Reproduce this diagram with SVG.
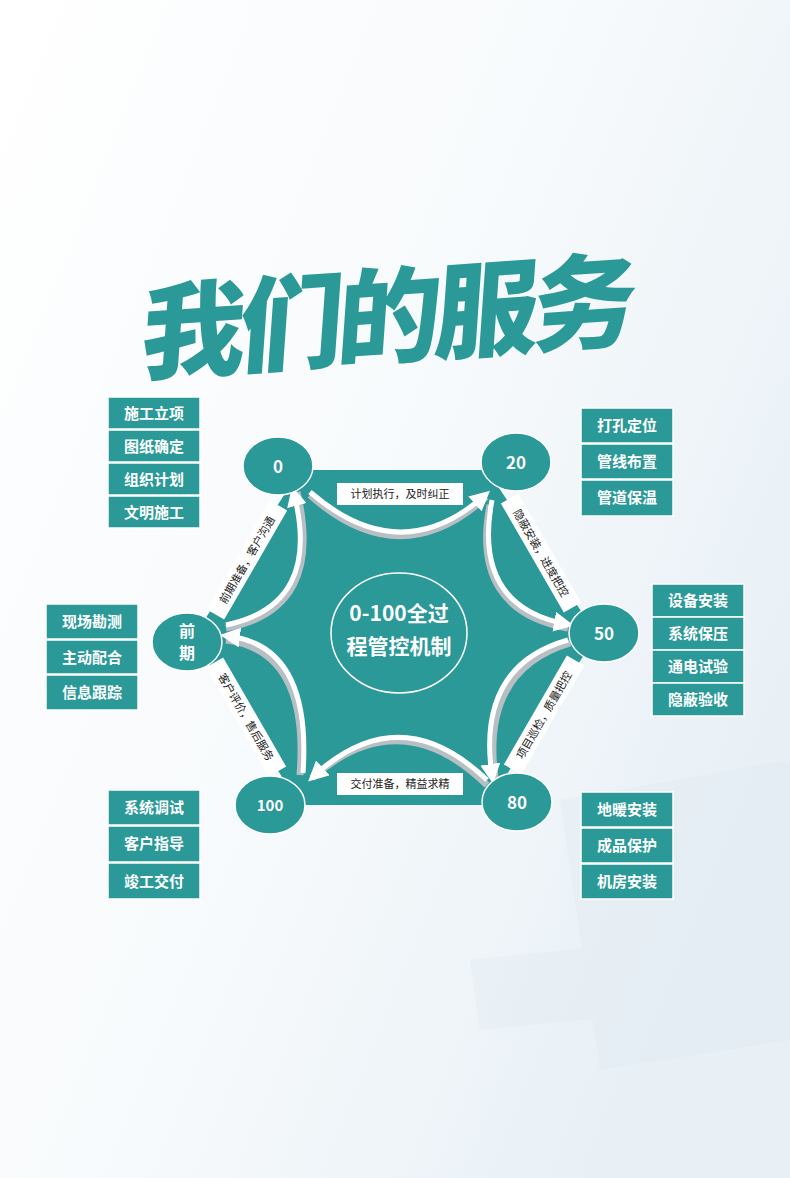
<svg xmlns="http://www.w3.org/2000/svg" width="790" height="1178" viewBox="0 0 790 1178">
<defs>
<linearGradient id="bg" x1="0" y1="0" x2="1" y2="0.6">
<stop offset="0" stop-color="#ffffff"/><stop offset="0.55" stop-color="#f7fafc"/><stop offset="1" stop-color="#e8f0f6"/>
</linearGradient>
<marker id="ah" viewBox="0 0 10 10" refX="6" refY="5" markerWidth="4" markerHeight="4" orient="auto" markerUnits="strokeWidth">
<path d="M0,0 L10,5 L0,10 z" fill="#ffffff"/>
</marker>
<style>
.tl{fill:#2a9997}
.bx{fill:#2a9997;stroke:#fff;stroke-width:1.5}
.bt{font-family:"Noto Sans CJK SC",sans-serif;font-size:15px;font-weight:bold;fill:#fff;text-anchor:middle}
.ct{font-family:"Noto Sans CJK SC",sans-serif;font-weight:bold;fill:#fff;text-anchor:middle}
.lb{fill:#fff}
.lt{font-family:"Noto Sans CJK SC",sans-serif;font-size:11px;fill:#222;text-anchor:middle}
.ar{fill:none;stroke:#fff;stroke-width:5}
.sh{fill:none;stroke:#b8bfc4;stroke-width:7}
</style>
</defs>
<rect width="790" height="1178" fill="url(#bg)"/>
<g opacity="0.25" fill="#dbe6ef">
<polygon points="560,800 790,760 790,1040 600,1070"/>
<polygon points="470,960 760,930 790,1000 480,1030"/>
</g>
<g id="title">
<text x="385" y="355" font-family="Noto Sans CJK SC,sans-serif" font-size="104" font-weight="900" fill="#2a9997" text-anchor="middle" transform="rotate(-4 385 300) skewX(-8) translate(45,0)" letter-spacing="-6">我们的服务</text>
</g>
<g id="hexagon">
<polygon class="tl" points="300,470 487,470 597,635 487,805 300,805 193,638"/>
<ellipse cx="399" cy="633" rx="68" ry="60" fill="none" stroke="#fff" stroke-width="1.5"/>
<text class="ct" x="399" y="621" font-size="21">0-100全过</text>
<text class="ct" x="399" y="654" font-size="21">程管控机制</text>
</g>
<g id="connectors">
<path class="sh" d="M310,495 Q400,575 486,497"/>
<path class="ar" d="M310,492 Q400,570 484,496" marker-end="url(#ah)"/>
<path class="sh" d="M490,505 Q470,610 568,628"/>
<path class="ar" d="M492,500 Q472,606 566,624" marker-end="url(#ah)"/>
<path class="sh" d="M570,643 Q480,670 495,778"/>
<path class="ar" d="M568,640 Q476,666 492,776" marker-end="url(#ah)"/>
<path class="sh" d="M487,785 Q400,700 312,778"/>
<path class="ar" d="M487,780 Q400,697 314,776" marker-end="url(#ah)"/>
<path class="sh" d="M300,775 Q310,650 226,640"/>
<path class="ar" d="M303,773 Q312,646 228,636" marker-end="url(#ah)"/>
<path class="sh" d="M226,628 Q325,610 297,492"/>
<path class="ar" d="M226,625 Q322,605 294,494" marker-end="url(#ah)"/>
</g>
<g id="labels">
<rect class="lb" x="337" y="483" width="126" height="22"/><text class="lt" x="400" y="498">计划执行，及时纠正</text>
<rect class="lb" x="337" y="773" width="126" height="22"/><text class="lt" x="400" y="788">交付准备，精益求精</text>
<g transform="translate(247,560) rotate(-60)"><rect class="lb" x="-63" y="-10" width="126" height="20"/><text class="lt" x="0" y="4">前期准备，客户沟通</text></g>
<g transform="translate(541,553) rotate(60)"><rect class="lb" x="-63" y="-10" width="126" height="20"/><text class="lt" x="0" y="4">隐蔽安装，进度把控</text></g>
<g transform="translate(544,715) rotate(-60)"><rect class="lb" x="-63" y="-10" width="126" height="20"/><text class="lt" x="0" y="4">项目巡检，质量把控</text></g>
<g transform="translate(246,717) rotate(60)"><rect class="lb" x="-63" y="-10" width="126" height="20"/><text class="lt" x="0" y="4">客户评价，售后服务</text></g>
</g>
<g id="n0"><ellipse class="tl" cx="278" cy="466" rx="35" ry="29" stroke="#fff" stroke-width="1.5"/><text class="ct" x="278" y="473" font-size="17">0</text></g>
<g id="n20"><ellipse class="tl" cx="516" cy="462" rx="35" ry="29" stroke="#fff" stroke-width="1.5"/><text class="ct" x="516" y="469" font-size="17">20</text></g>
<g id="n50"><ellipse class="tl" cx="604" cy="633" rx="35" ry="29" stroke="#fff" stroke-width="1.5"/><text class="ct" x="604" y="640" font-size="17">50</text></g>
<g id="n80"><ellipse class="tl" cx="517" cy="802" rx="35" ry="29" stroke="#fff" stroke-width="1.5"/><text class="ct" x="517" y="809" font-size="17">80</text></g>
<g id="n100"><ellipse class="tl" cx="270" cy="805" rx="35" ry="29" stroke="#fff" stroke-width="1.5"/><text class="ct" x="270" y="811" font-size="15">100</text></g>
<g id="nq"><ellipse class="tl" cx="187" cy="642" rx="35" ry="29" stroke="#fff" stroke-width="1.5"/><text class="ct" x="187" y="637" font-size="16">前</text><text class="ct" x="187" y="659" font-size="16">期</text></g>
<g id="box-lt">
<rect class="bx" x="108" y="397" width="92" height="32"/><text class="bt" x="154" y="419">施工立项</text>
<rect class="bx" x="108" y="430" width="92" height="32"/><text class="bt" x="154" y="452">图纸确定</text>
<rect class="bx" x="108" y="463" width="92" height="32"/><text class="bt" x="154" y="485">组织计划</text>
<rect class="bx" x="108" y="496" width="92" height="32"/><text class="bt" x="154" y="518">文明施工</text>
</g>
<g id="box-rt">
<rect class="bx" x="581" y="408" width="92" height="35"/><text class="bt" x="627" y="431">打孔定位</text>
<rect class="bx" x="581" y="444" width="92" height="35"/><text class="bt" x="627" y="467">管线布置</text>
<rect class="bx" x="581" y="480" width="92" height="36"/><text class="bt" x="627" y="503">管道保温</text>
</g>
<g id="box-rm">
<rect class="bx" x="652" y="584" width="92" height="33"/><text class="bt" x="698" y="606">设备安装</text>
<rect class="bx" x="652" y="617" width="92" height="33"/><text class="bt" x="698" y="639">系统保压</text>
<rect class="bx" x="652" y="650" width="92" height="33"/><text class="bt" x="698" y="672">通电试验</text>
<rect class="bx" x="652" y="683" width="92" height="33"/><text class="bt" x="698" y="705">隐蔽验收</text>
</g>
<g id="box-lm">
<rect class="bx" x="46" y="604" width="92" height="35"/><text class="bt" x="92" y="627">现场勘测</text>
<rect class="bx" x="46" y="640" width="92" height="34"/><text class="bt" x="92" y="663">主动配合</text>
<rect class="bx" x="46" y="675" width="92" height="35"/><text class="bt" x="92" y="698">信息跟踪</text>
</g>
<g id="box-lb">
<rect class="bx" x="108" y="790" width="92" height="35"/><text class="bt" x="154" y="813">系统调试</text>
<rect class="bx" x="108" y="826" width="92" height="36"/><text class="bt" x="154" y="849">客户指导</text>
<rect class="bx" x="108" y="863" width="92" height="36"/><text class="bt" x="154" y="887">竣工交付</text>
</g>
<g id="box-rb">
<rect class="bx" x="581" y="792" width="92" height="35"/><text class="bt" x="627" y="815">地暖安装</text>
<rect class="bx" x="581" y="828" width="92" height="35"/><text class="bt" x="627" y="851">成品保护</text>
<rect class="bx" x="581" y="864" width="92" height="35"/><text class="bt" x="627" y="887">机房安装</text>
</g>
</svg>
